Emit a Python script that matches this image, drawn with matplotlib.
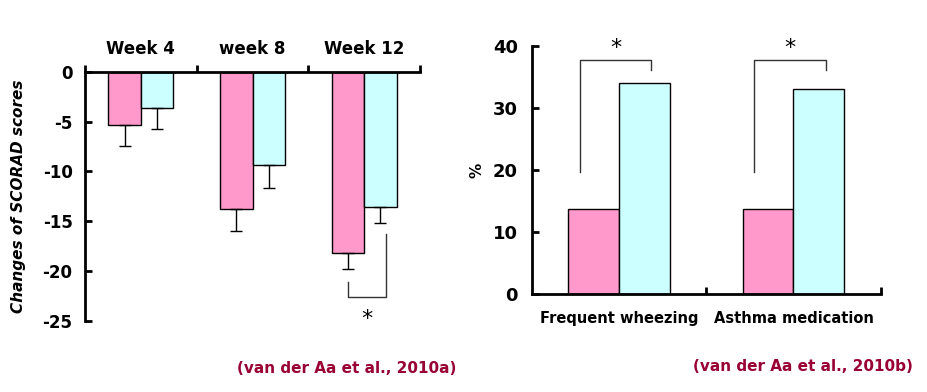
import matplotlib.pyplot as plt
import numpy as np

# left panel: change of SCORAD scores
weeks = ["Week 4", "week 8", "Week 12"]
scorad_pink = [-5.3, -13.8, -18.2]
scorad_cyan = [-3.6, -9.4, -13.6]
scorad_pink_err = [2.1, 2.2, 1.55]
scorad_cyan_err = [2.15, 2.3, 1.6]
scorad_ticks = [0, -5, -10, -15, -20, -25]

# right panel: percentages
outcomes = ["Frequent wheezing", "Asthma medication"]
pct_pink = [13.7, 13.7]
pct_cyan = [34.0, 33.1]
pct_ticks = [0, 10, 20, 30, 40]

PINK = "#FF99CC"
CYAN = "#CCFFFF"
CITE = "#990033"
BW = 0.29

fig = plt.figure(figsize=(9.28, 3.92), dpi=100)
plt.rcParams["font.family"] = ["DejaVu Sans"]

# ---------- left ----------
ax1 = fig.add_axes([0.0916, 0.181, 0.361, 0.636])
x = np.arange(len(weeks))
ax1.bar(x - BW / 2, scorad_pink, BW, color=PINK, edgecolor="black", linewidth=1)
ax1.bar(x + BW / 2, scorad_cyan, BW, color=CYAN, edgecolor="black", linewidth=1)
ax1.errorbar(x - BW / 2, scorad_pink, yerr=[scorad_pink_err, [0] * 3], fmt="none",
             ecolor="black", elinewidth=1, capsize=4, capthick=1)
ax1.errorbar(x + BW / 2, scorad_cyan, yerr=[scorad_cyan_err, [0] * 3], fmt="none",
             ecolor="black", elinewidth=1, capsize=4, capthick=1)
ax1.set_xlim(-0.5, 2.5)
ax1.set_ylim(-25, 0)
ax1.spines["right"].set_visible(False)
ax1.spines["bottom"].set_visible(False)
for s in ("left", "top"):
    ax1.spines[s].set_linewidth(2)
ax1.xaxis.tick_top()
ax1.set_xticks(x)
ax1.set_xticklabels(weeks, fontsize=12, fontweight="bold")
ax1.tick_params(axis="x", length=0, pad=10)
ax1.set_xticks(np.arange(-0.5, 3, 1), minor=True)
ax1.tick_params(axis="x", which="minor", length=5, width=2, direction="out", top=True)
ax1.set_yticks(scorad_ticks)
ax1.set_yticklabels([str(t) for t in scorad_ticks], fontsize=12, fontweight="bold")
ax1.tick_params(axis="y", length=5, width=2, direction="in", pad=9)
ax1.set_ylabel("Changes of SCORAD scores", fontsize=11, fontweight="bold",
               fontstyle="italic", labelpad=12)

# significance bracket week 12
xl, xr = 2 - BW / 2, 2 + BW / 2 + 0.05
ax1.plot([xl, xl, xr, xr], [-21.1, -22.6, -22.6, -16.3], color="#333333", lw=1)
ax1.text((xl + xr) / 2, -24.8, "*", fontsize=16, ha="center", va="center")

fig.text(0.255, 0.06, "(van der Aa et al., 2010a)", color=CITE, fontsize=11,
         fontweight="bold", ha="left", va="center")

# ---------- right ----------
ax2 = fig.add_axes([0.573, 0.249, 0.376, 0.634])
x2 = np.arange(len(outcomes))
ax2.bar(x2 - BW / 2, pct_pink, BW, color=PINK, edgecolor="black", linewidth=1)
ax2.bar(x2 + BW / 2, pct_cyan, BW, color=CYAN, edgecolor="black", linewidth=1)
ax2.set_xlim(-0.5, 1.5)
ax2.set_ylim(0, 40)
ax2.spines["right"].set_visible(False)
ax2.spines["top"].set_visible(False)
for s in ("left", "bottom"):
    ax2.spines[s].set_linewidth(2)
ax2.set_xticks(x2)
ax2.set_xticklabels(outcomes, fontsize=10.5, fontweight="bold")
ax2.tick_params(axis="x", length=0, pad=12)
ax2.set_xticks([0.5, 1.5], minor=True)
ax2.tick_params(axis="x", which="minor", length=5, width=2, direction="in")
ax2.set_yticks(pct_ticks)
ax2.set_yticklabels([str(t) for t in pct_ticks], fontsize=13, fontweight="bold")
ax2.tick_params(axis="y", length=5, width=2, direction="in", pad=10)
ax2.set_ylabel("%", fontsize=11, fontweight="bold", labelpad=6)

for i in x2:
    bl, br = i - BW / 2 - 0.08, i + BW / 2 + 0.04
    ax2.plot([bl, bl, br, br], [19.7, 37.7, 37.7, 36.1], color="#333333", lw=1)
    ax2.text((bl + br) / 2, 39.6, "*", fontsize=16, ha="center", va="center")

fig.text(0.747, 0.065, "(van der Aa et al., 2010b)", color=CITE, fontsize=11,
         fontweight="bold", ha="left", va="center")

fig.savefig("out.png", dpi=100, facecolor="white")
